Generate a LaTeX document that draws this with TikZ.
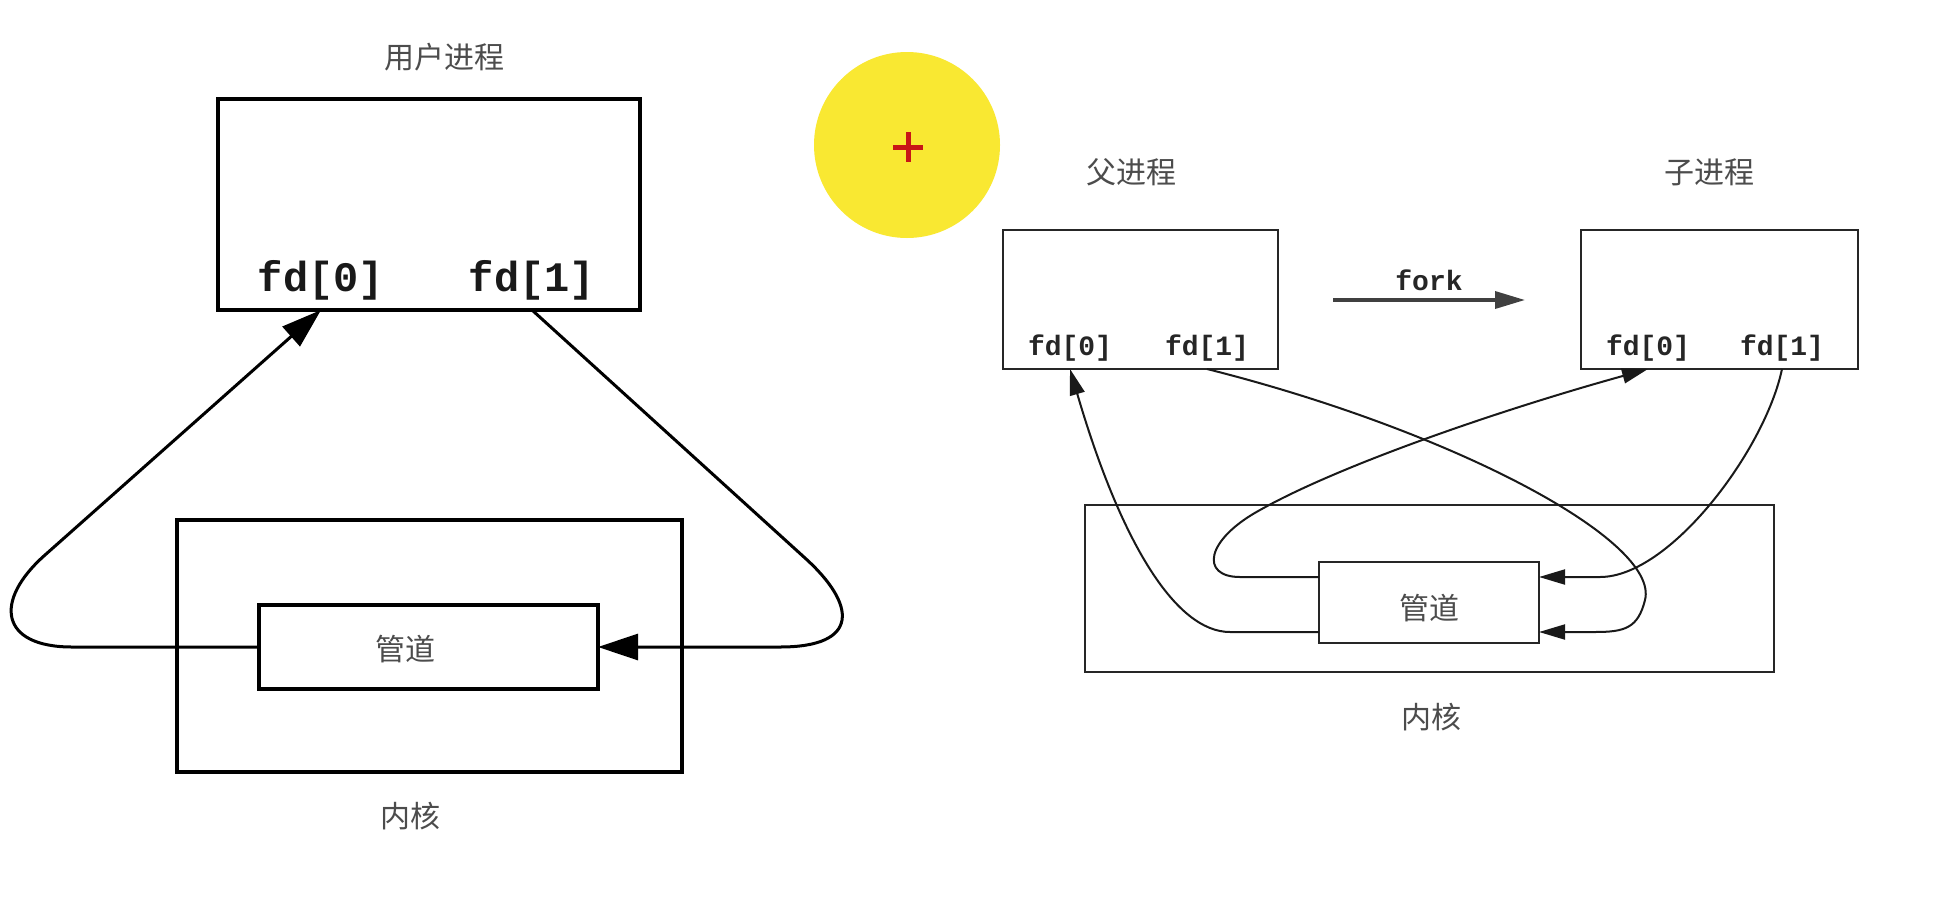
\documentclass[tikz,border=0pt]{standalone}
\usepackage{fontspec}
\newfontfamily\cjk{Noto Sans CJK SC}
\newfontfamily\mono{Liberation Mono}
\usetikzlibrary{arrows.meta}
\definecolor{hiyellow}{RGB}{249,232,50}
\definecolor{hired}{RGB}{200,22,22}
\begin{document}
\begin{tikzpicture}[x=1pt,y=-1pt,
  box/.style={draw=black, line width=3.2pt, inner sep=0pt, outer sep=0pt},
  rbox/.style={draw=black!85, line width=2.2pt, inner sep=0pt, outer sep=0pt},
  cjklabel/.style={font=\cjk\fontsize{30}{30}\selectfont, text=black!70, inner sep=0pt},
  bigfd/.style={font=\mono\bfseries\fontsize{42}{42}\selectfont, text=black!90, inner sep=0pt},
  smallfd/.style={font=\mono\bfseries\fontsize{28}{28}\selectfont, text=black!85, inner sep=0pt},
  bigarrow/.style={line width=3pt, -{Triangle[length=40pt,width=26pt]}},
  rarrow/.style={draw=black!90, line width=2pt, -{Triangle[length=26pt,width=15pt]}},
  forkarrow/.style={draw=black!75, line width=3.5pt, -{Triangle[length=30pt,width=17pt]}},
]
\fill[white] (0,0) rectangle (1946,908);
\useasboundingbox (0,0) rectangle (1946,908);

% ---------- left diagram ----------
\node[cjklabel] (ulabel) at (444,57) {用户进程};
\node[box, minimum width=422pt, minimum height=211pt] (ubox) at (429,204.5) {};
\node[bigfd] (ufd0) at (321,280) {fd[0]};
\node[bigfd] (ufd1) at (532,280) {fd[1]};
\node[box, minimum width=505pt, minimum height=252pt] (k1) at (429.5,646) {};
\node[box, minimum width=339pt, minimum height=84pt] (p1) at (428.5,647) {};
\node[cjklabel] (p1label) at (405,649) {管道};
\node[cjklabel] (k1label) at (410,816) {内核};

\draw[bigarrow] (p1.west) -- (72,647) .. controls (0,647) and (-7,601) .. (45,555) -- (ufd0 |- ubox.south);
\draw[bigarrow] (ufd1 |- ubox.south) -- (805,558) .. controls (857,605) and (860,647) .. (780,647) -- (p1.east);

% ---------- highlight ----------
\fill[hiyellow] (907,145) circle[radius=93];
\draw[hired, line width=5pt] (893,147) -- (923,147) (908,132) -- (908,162);

% ---------- right diagram ----------
\node[cjklabel] (plabel) at (1131,172) {父进程};
\node[cjklabel] (clabel) at (1709,172) {子进程};
\node[rbox, minimum width=275pt, minimum height=139pt] (pbox) at (1140.5,299.5) {};
\node[rbox, minimum width=277pt, minimum height=139pt] (cbox) at (1719.5,299.5) {};
\node[smallfd] (pfd0) at (1070,348) {fd[0]};
\node[smallfd] (pfd1) at (1207,348) {fd[1]};
\node[smallfd] (cfd0) at (1648,348) {fd[0]};
\node[smallfd] (cfd1) at (1782,348) {fd[1]};
\node[smallfd] (fork) at (1429,280) {fork};
\coordinate (fkA) at (1333,300);
\coordinate (fkB) at (1525,300);
\draw[forkarrow] (fkA) -- (fkB);

\node[rbox, minimum width=689pt, minimum height=167pt] (k2) at (1429.5,588.5) {};
\node[rbox, minimum width=220pt, minimum height=81pt] (p2) at (1429,602.5) {};
\node[cjklabel] (p2label) at (1429,608) {管道};
\node[cjklabel] (k2label) at (1431,717) {内核};

\draw[rarrow] ([yshift=-29.5pt]p2.west) -- (1230,632) .. controls (1175,632) and (1120,540) .. (pfd0 |- pbox.south);
\draw[rarrow] (pfd1 |- pbox.south) .. controls (1450,430) and (1660,540) .. (1645,600) .. controls (1638,628) and (1625,632) .. (1595,632) -- ([yshift=-29.5pt]p2.east);
\draw[rarrow] ([yshift=25.5pt]p2.west) -- (1240,577) .. controls (1200,577) and (1205,540) .. (1260,510) .. controls (1340,465) and (1500,410) .. (cfd0 |- cbox.south);
\draw[rarrow] (cfd1 |- cbox.south) .. controls (1765,450) and (1670,577) .. (1600,577) -- ([yshift=25.5pt]p2.east);
\end{tikzpicture}
\end{document}
